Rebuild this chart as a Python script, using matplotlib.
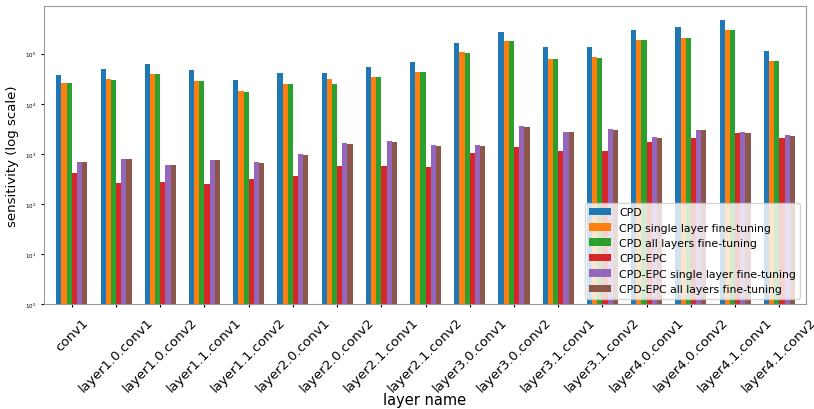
import numpy as np
import matplotlib
matplotlib.use('Agg')
import matplotlib.pyplot as plt

layers = ['conv1', 'layer1.0.conv1', 'layer1.0.conv2', 'layer1.1.conv1', 'layer1.1.conv2',
          'layer2.0.conv1', 'layer2.0.conv2', 'layer2.1.conv1', 'layer2.1.conv2',
          'layer3.0.conv1', 'layer3.0.conv2', 'layer3.1.conv1', 'layer3.1.conv2',
          'layer4.0.conv1', 'layer4.0.conv2', 'layer4.1.conv1', 'layer4.1.conv2']

cpd = [38000, 49000, 62000, 48000, 30000, 42000, 42000, 55000, 69000,
       161000, 275000, 138000, 138000, 297000, 335000, 478000, 115000]
cpd_single = [26000, 31000, 40000, 29000, 18000, 25000, 31000, 35000, 44000,
              106000, 180000, 79000, 86000, 191000, 209000, 297000, 72000]
cpd_all = [26000, 30000, 40000, 28000, 17500, 24500, 25000, 35000, 43000,
           103000, 178000, 77000, 84000, 185000, 205000, 295000, 71000]
epc = [420, 260, 270, 250, 320, 355, 560, 560, 535,
       1050, 1350, 1120, 1120, 1700, 2050, 2600, 2050]
epc_single = [700, 800, 600, 760, 700, 980, 1650, 1800, 1470,
              1470, 3600, 2700, 3070, 2150, 3030, 2700, 2330]
epc_all = [680, 800, 590, 740, 660, 950, 1600, 1750, 1430,
           1430, 3500, 2700, 3000, 2100, 2950, 2650, 2300]

series = [cpd, cpd_single, cpd_all, epc, epc_single, epc_all]
labels = ['CPD', 'CPD single layer fine-tuning', 'CPD all layers fine-tuning',
          'CPD-EPC', 'CPD-EPC single layer fine-tuning', 'CPD-EPC all layers fine-tuning']

fig = plt.figure(figsize=(8.14, 4.1), dpi=100)
ax = fig.add_axes([0.054, 0.256, 0.936, 0.727])

x = np.arange(len(layers))
width = 0.117
for i, (vals, lab) in enumerate(zip(series, labels)):
    ax.bar(x + (i - 2.5) * width, vals, width, label=lab)

ax.set_yscale('log')
ax.set_ylim(1, 9e5)
ax.set_xlim(-0.63, 16.6)
ax.minorticks_off()
ax.set_xticks(x)
ax.set_xticklabels(layers, rotation=45, fontsize=9.5)
ax.tick_params(axis='y', labelsize=4, length=2)
ax.tick_params(axis='x', length=2, pad=6)
for s in ax.spines.values():
    s.set_color('#999999')

ax.set_xlabel('layer name', fontsize=10.5, labelpad=-2)
ax.set_ylabel('sensitivity (log scale)', fontsize=9.5)
ax.legend(loc='lower right', fontsize=7.8)

fig.savefig('out.png', dpi=100)
